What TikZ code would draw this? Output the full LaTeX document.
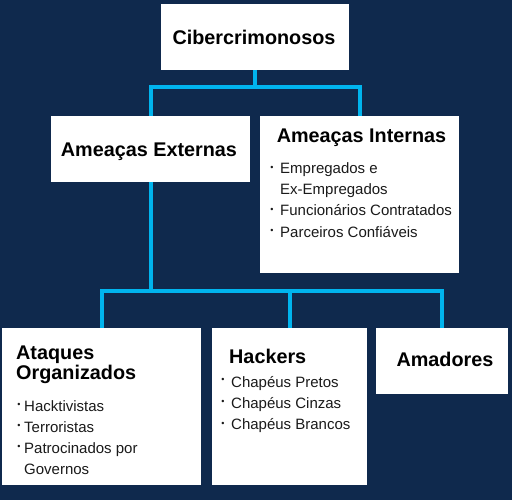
\documentclass[tikz,border=0pt]{standalone}
\usepackage{fontspec}
\setmainfont{Liberation Sans}
\definecolor{navy}{HTML}{0F294D}
\definecolor{cyanline}{HTML}{00B4EE}
\definecolor{txt}{HTML}{1A1A1A}
\tikzset{
  box/.style={fill=white, draw=none, rectangle, inner sep=0pt},
  conn/.style={draw=cyanline, line width=4pt},
  ttl/.style={inner sep=0pt, text=black, font=\fontsize{19.8}{20}\selectfont\bfseries},
  itm/.style={inner sep=0pt, anchor=base west, text=txt, font=\fontsize{15}{21}\selectfont},
  bul/.style={inner sep=0pt, anchor=center, text=txt, font=\fontsize{9}{9}\selectfont},
}
\begin{document}
\begin{tikzpicture}[x=1pt,y=-1pt]
\fill[navy] (0,0) rectangle (512,500);
\useasboundingbox (0,0) rectangle (512,500);
% boxes
\node[box, minimum width=188pt, minimum height=66pt] (top) at (255,37) {};
\node[box, minimum width=199pt, minimum height=66pt] (ext) at (150.5,149) {};
\node[box, minimum width=199pt, minimum height=157pt] (int) at (359.5,194.5) {};
\node[box, minimum width=199pt, minimum height=157pt] (ato) at (101.5,406.5) {};
\node[box, minimum width=155pt, minimum height=157pt] (hac) at (289.5,406.5) {};
\node[box, minimum width=132pt, minimum height=66pt] (ama) at (442,361) {};
% connectors
\draw[conn] (top.south) -- ++(0,17) coordinate (j1);
\draw[conn] (ext.north) |- (j1) -| (int.north);
\draw[conn] (ext.south) -- ++(0,109) coordinate (j2);
\draw[conn] (ato.north) |- (j2) -| (ama.north);
\draw[conn] (hac.north) -- (hac.north |- j2);
% titles
\node[ttl, anchor=base] (t1) at (254,45) {Cibercrimonosos};
\node[ttl, anchor=base] (t2) at (149,157) {Ameaças Externas};
\node[ttl, anchor=base] (t3) at (361.5,143) {Ameaças Internas};
\node[ttl, anchor=base west] (t4) at (16,359) {Ataques};
\node[ttl, anchor=base west] (t5) at (16,379) {Organizados};
\node[ttl, anchor=base west] (t6) at (229,363) {Hackers};
\node[ttl, anchor=base] (t7) at (445,366) {Amadores};
% internas items
\node[itm] (i1) at (280,174) {Empregados e};
\node[itm] (i2) at (280,195) {Ex-Empregados};
\node[itm] (i3) at (280,216) {Funcionários Contratados};
\node[itm] (i4) at (280,237) {Parceiros Confiáveis};
\node[bul] (bi1) at (272,168) {•};
\node[bul] (bi3) at (272,210) {•};
\node[bul] (bi4) at (272,231) {•};
% ataques items
\node[itm] (a1) at (24,411) {Hacktivistas};
\node[itm] (a2) at (24,432) {Terroristas};
\node[itm] (a3) at (24,453) {Patrocinados por};
\node[itm] (a4) at (24,474) {Governos};
\node[bul] (ba1) at (19,405) {•};
\node[bul] (ba2) at (19,426.5) {•};
\node[bul] (ba3) at (19,447.5) {•};
% hackers items
\node[itm] (h1) at (231,387) {Chapéus Pretos};
\node[itm] (h2) at (231,408) {Chapéus Cinzas};
\node[itm] (h3) at (231,429) {Chapéus Brancos};
\node[bul] (bh1) at (223,380) {•};
\node[bul] (bh2) at (223,402) {•};
\node[bul] (bh3) at (223,424) {•};
\end{tikzpicture}
\end{document}
